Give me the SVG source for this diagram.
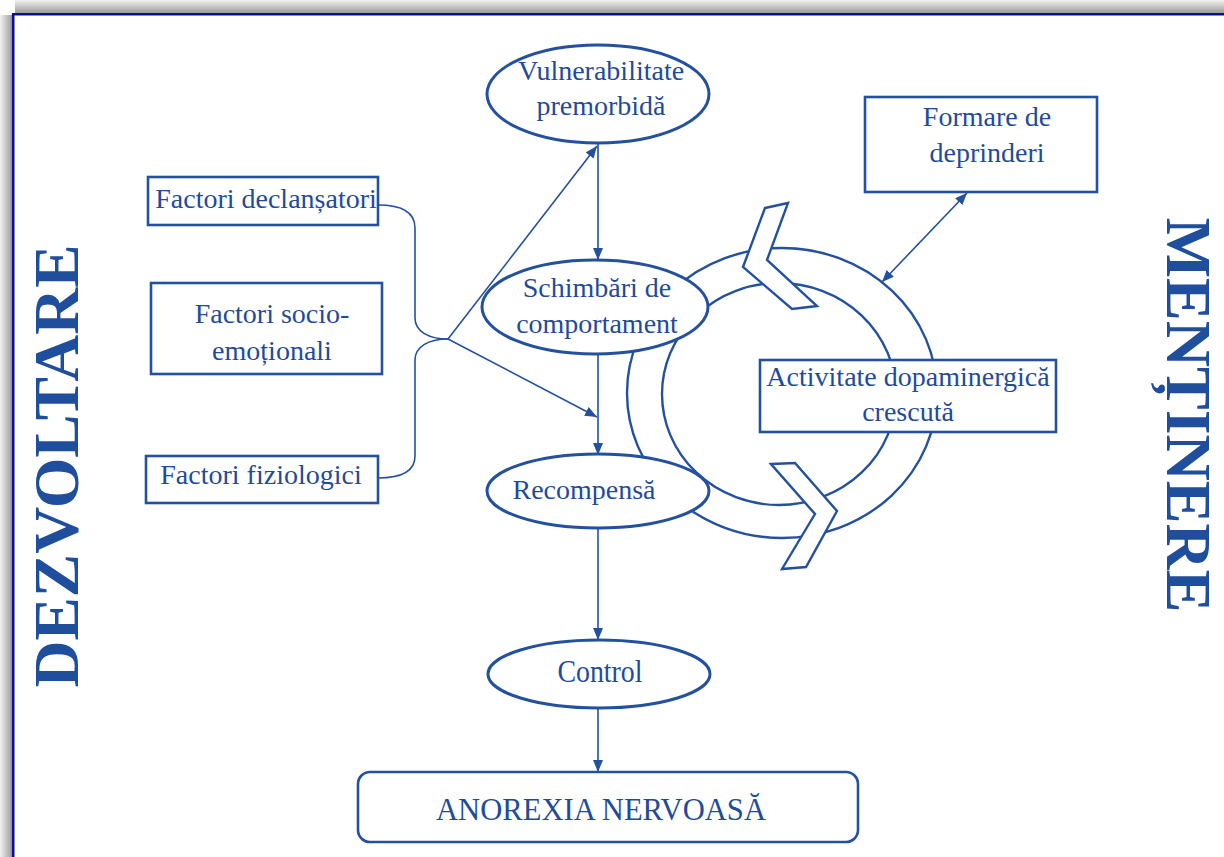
<svg xmlns="http://www.w3.org/2000/svg" width="1224" height="857" viewBox="0 0 1224 857">
  <defs>
    <linearGradient id="shadowLeft" x1="0" y1="0" x2="1" y2="0">
      <stop offset="0" stop-color="#f2f2f2"/>
      <stop offset="1" stop-color="#9c9c9c"/>
    </linearGradient>
    <linearGradient id="shadowTop" x1="0" y1="0" x2="0" y2="1">
      <stop offset="0" stop-color="#f2f2f2"/>
      <stop offset="1" stop-color="#9c9c9c"/>
    </linearGradient>
    <marker id="arrow" viewBox="0 0 12 10" refX="12" refY="5" markerWidth="12" markerHeight="10" markerUnits="userSpaceOnUse" orient="auto-start-reverse">
      <path d="M0,0 L12,5 L0,10 Z" fill="#23509f"/>
    </marker>
  </defs>
  <style>
    .box { fill: #ffffff; stroke: #23509f; stroke-width: 2.6; }
    .oval { fill: #ffffff; stroke: #23509f; stroke-width: 3; }
    .ring { fill: none; stroke: #23509f; stroke-width: 2.4; }
    .chev { fill: #ffffff; stroke: #23509f; stroke-width: 2.4; stroke-linejoin: miter; }
    .link { fill: none; stroke: #23509f; stroke-width: 1.6; }
    .lbl { font-family: "Liberation Serif", "Times New Roman", serif; font-size: 28px; fill: #1f4b9b; text-anchor: middle; }
    .lbl-c { font-family: "Liberation Serif", "Times New Roman", serif; font-size: 32px; fill: #1f4b9b; text-anchor: middle; }
    .side { font-family: "Liberation Serif", "Times New Roman", serif; font-size: 64px; font-weight: bold; fill: #1f4e9c; text-anchor: middle; }
  </style>

  <!-- page background, drop shadow and frame -->
  <rect x="0" y="0" width="1224" height="857" fill="#ffffff"/>
  <rect x="0" y="15" width="12" height="842" fill="url(#shadowLeft)"/>
  <rect x="15" y="0" width="1209" height="13" fill="url(#shadowTop)"/>
  <path d="M13.2,857 L13.2,14.2 L1224,14.2" fill="none" stroke="#0c0c96" stroke-width="2.6"/>

  <!-- side titles -->
  <text class="side" transform="translate(78,466) rotate(-90)" textLength="443" lengthAdjust="spacingAndGlyphs">DEZVOLTARE</text>
  <text class="side" transform="translate(1167,415) rotate(90)">MENȚINERE</text>

  <!-- maintenance loop ring -->
  <g id="ring">
    <ellipse class="ring" cx="782" cy="393" rx="155" ry="145"/>
    <ellipse class="ring" cx="779" cy="394" rx="117" ry="111"/>
  </g>

  <!-- connectors -->
  <g id="connectors">
    <path class="link" d="M378,205 C402,205 415,212 415,228 L415,318 C415,331 428,339 448,339"/>
    <path class="link" d="M378,478 C402,478 415,471 415,456 L415,360 C415,347 428,339 448,339"/>
    <line class="link" x1="448" y1="339" x2="597" y2="146" marker-end="url(#arrow)"/>
    <line class="link" x1="448" y1="339" x2="597" y2="417" marker-end="url(#arrow)"/>
    <line class="link" x1="598" y1="143" x2="598" y2="260" marker-end="url(#arrow)"/>
    <line class="link" x1="598" y1="355" x2="598" y2="455" marker-end="url(#arrow)"/>
    <line class="link" x1="598" y1="528" x2="598" y2="640" marker-end="url(#arrow)"/>
    <line class="link" x1="598" y1="708" x2="598" y2="772" marker-end="url(#arrow)"/>
    <line class="link" x1="882" y1="282" x2="967" y2="193" marker-start="url(#arrow)" marker-end="url(#arrow)"/>
  </g>

  <!-- chevrons marking the loop direction -->
  <g id="loop-arrows">
    <polygon class="chev" points="765,208 788,203 767,260 817,306 792,309 743,267"/>
    <polygon class="chev" points="771,464 795,463 837,511 806,567 782,569 815,514"/>
  </g>

  <g id="vulnerabilitate">
    <ellipse class="oval" cx="598" cy="94" rx="111" ry="49"/>
    <text class="lbl" x="601" y="80">Vulnerabilitate</text>
    <text class="lbl" x="601" y="115">premorbidă</text>
  </g>

  <g id="schimbari">
    <ellipse class="oval" cx="595" cy="307" rx="113" ry="47"/>
    <text class="lbl" x="597" y="297">Schimbări de</text>
    <text class="lbl" x="597" y="333">comportament</text>
  </g>

  <g id="recompensa">
    <ellipse class="oval" cx="598" cy="491" rx="111" ry="37"/>
    <text class="lbl" x="584" y="499">Recompensă</text>
  </g>

  <g id="control">
    <ellipse class="oval" cx="599" cy="674" rx="111" ry="34"/>
    <text class="lbl-c" x="600" y="682" textLength="85" lengthAdjust="spacingAndGlyphs">Control</text>
  </g>

  <g id="anorexia">
    <rect class="box" x="358" y="772" width="500" height="70" rx="12" ry="12"/>
    <text class="lbl-c" x="601" y="820" textLength="330" lengthAdjust="spacingAndGlyphs">ANOREXIA NERVOASĂ</text>
  </g>

  <g id="factori-declansatori">
    <rect class="box" x="148" y="177" width="230" height="48"/>
    <text class="lbl" x="266" y="208">Factori declanșatori</text>
  </g>

  <g id="factori-socio">
    <rect class="box" x="151" y="283" width="231" height="91"/>
    <text class="lbl" x="272" y="323">Factori socio-</text>
    <text class="lbl" x="272" y="360">emoționali</text>
  </g>

  <g id="factori-fiziologici">
    <rect class="box" x="146" y="456" width="232" height="47"/>
    <text class="lbl" x="261" y="484">Factori fiziologici</text>
  </g>

  <g id="formare">
    <rect class="box" x="865" y="97" width="232" height="95"/>
    <text class="lbl" x="987" y="126">Formare de</text>
    <text class="lbl" x="987" y="162">deprinderi</text>
  </g>

  <g id="dopamina">
    <rect class="box" x="760" y="360" width="296" height="72"/>
    <text class="lbl" x="908" y="386">Activitate dopaminergică</text>
    <text class="lbl" x="908" y="421">crescută</text>
  </g>
</svg>
